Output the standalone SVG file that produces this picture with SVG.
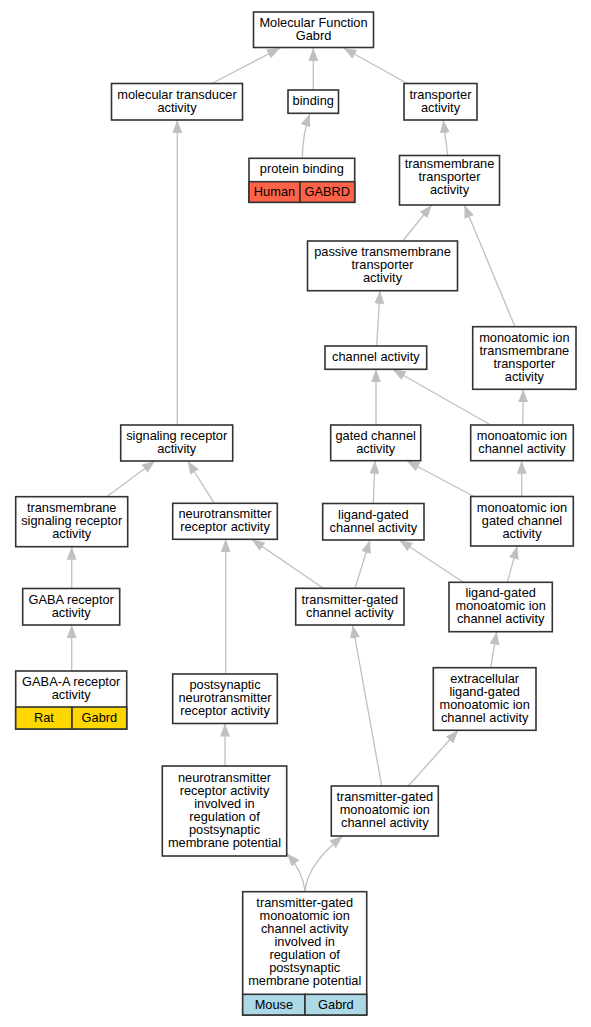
<svg xmlns="http://www.w3.org/2000/svg" width="591" height="1027" viewBox="0 0 591 1027">
<style>
.node rect{fill:#fff;stroke:#333;stroke-width:1.6}
.node text{font-family:"Liberation Sans",Arial,sans-serif;font-size:12.8px;text-anchor:middle;fill:#000}
.node line{stroke:#333;stroke-width:1.3}
.cellR{fill:#ff6347 !important}
.cellG{fill:#ffd700 !important}
.cellB{fill:#add8e6 !important}
#edges path{fill:none;stroke:#c0c0c0;stroke-width:1.3;marker-end:url(#ah)}
</style>
<defs>
<marker id="ah" markerUnits="userSpaceOnUse" markerWidth="14" markerHeight="10" refX="13" refY="5" orient="auto"><path d="M0,0 L13,5 L0,10 z" fill="#c0c0c0"/></marker>
</defs>
<rect width="591" height="1027" fill="#fff"/>
<g id="edges">
<path d="M211.7,83.5 L280,48"/>
<path d="M313.3,90 L313.3,48"/>
<path d="M407.3,83.5 L343.5,48"/>
<path d="M302.3,158.3 C302.5,142 305,127 310,113.5"/>
<path d="M447.7,155.5 L443.3,120"/>
<path d="M177.3,425 L177.3,120"/>
<path d="M402.7,241 L431.7,205"/>
<path d="M515,326.7 L464.3,205"/>
<path d="M376.7,346 L380,290.7"/>
<path d="M376,425 L376,369.3"/>
<path d="M490.7,425 L392.7,369.3"/>
<path d="M522.7,425 L523.3,389.3"/>
<path d="M106.7,496.7 L155,461"/>
<path d="M214.3,503.3 L187.7,461"/>
<path d="M373.3,503.5 L375,460.7"/>
<path d="M474,496.5 L406.7,460.7"/>
<path d="M521.7,496.5 L521.7,460.7"/>
<path d="M71.7,588.5 L71.7,546.7"/>
<path d="M323.3,588.3 L251.7,539.3"/>
<path d="M355,588.3 L370,540"/>
<path d="M463.3,582.3 L399.3,540"/>
<path d="M507.3,582.3 L517.3,546"/>
<path d="M71.7,671 L71.7,625"/>
<path d="M225.7,674 L225.7,539.3"/>
<path d="M490.7,667.7 L496.7,631.7"/>
<path d="M225,766 L225,723.5"/>
<path d="M381.7,786 L352.7,625"/>
<path d="M408.3,786 L458.3,730.3"/>
<path d="M305,891.7 C304,877 297,865 287,853.5"/>
<path d="M305,891.7 C307,870 322,853 342.7,836"/>
</g>
<g id="mf" class="node"><rect x="253.5" y="12" width="120" height="35.5"/><text><tspan x="313.5" y="26.6">Molecular Function</tspan><tspan x="313.5" y="39.6">Gabrd</tspan></text></g>
<g id="mta" class="node"><rect x="111.5" y="83.5" width="131" height="36.5"/><text><tspan x="177" y="98.6">molecular transducer</tspan><tspan x="177" y="111.6">activity</tspan></text></g>
<g id="binding" class="node"><rect x="288" y="90" width="50.5" height="23.3"/><text x="313.25" y="105">binding</text></g>
<g id="ta" class="node"><rect x="404" y="83.5" width="73" height="36.5"/><text><tspan x="440.5" y="98.6">transporter</tspan><tspan x="440.5" y="111.6">activity</tspan></text></g>
<g id="pb" class="node"><rect x="249" y="158.3" width="105.7" height="44"/><rect class="cellR" x="249" y="181.7" width="51" height="20.6"/><rect class="cellR" x="300" y="181.7" width="54.7" height="20.6"/><text x="301.85" y="173.3">protein binding</text><text x="274.5" y="195.5">Human</text><text x="327.3" y="195.5">GABRD</text></g>
<g id="tta" class="node"><rect x="399.5" y="155.5" width="100" height="49.5"/><text><tspan x="449.5" y="167.6">transmembrane</tspan><tspan x="449.5" y="180.6">transporter</tspan><tspan x="449.5" y="193.6">activity</tspan></text></g>
<g id="ptta" class="node"><rect x="307.5" y="241" width="150" height="49.7"/><text><tspan x="382.5" y="256.2">passive transmembrane</tspan><tspan x="382.5" y="269.2">transporter</tspan><tspan x="382.5" y="282.2">activity</tspan></text></g>
<g id="ca" class="node"><rect x="325" y="346" width="101.7" height="23.3"/><text x="375.85" y="361">channel activity</text></g>
<g id="mitt" class="node"><rect x="472.7" y="326.7" width="103.3" height="62.6"/><text><tspan x="524.35" y="341.8">monoatomic ion</tspan><tspan x="524.35" y="354.8">transmembrane</tspan><tspan x="524.35" y="367.8">transporter</tspan><tspan x="524.35" y="380.8">activity</tspan></text></g>
<g id="sra" class="node"><rect x="120.7" y="425" width="112" height="36"/><text><tspan x="176.7" y="439.8">signaling receptor</tspan><tspan x="176.7" y="452.8">activity</tspan></text></g>
<g id="gca" class="node"><rect x="330.7" y="425" width="90" height="35.7"/><text><tspan x="375.7" y="439.7">gated channel</tspan><tspan x="375.7" y="452.7">activity</tspan></text></g>
<g id="mica" class="node"><rect x="470.7" y="425" width="102.6" height="35.7"/><text><tspan x="522" y="439.7">monoatomic ion</tspan><tspan x="522" y="452.7">channel activity</tspan></text></g>
<g id="tsra" class="node"><rect x="15.7" y="496.7" width="112" height="50"/><text><tspan x="71.7" y="512">transmembrane</tspan><tspan x="71.7" y="525">signaling receptor</tspan><tspan x="71.7" y="538">activity</tspan></text></g>
<g id="nra" class="node"><rect x="172.7" y="503.3" width="104.6" height="36"/><text><tspan x="225" y="518.1">neurotransmitter</tspan><tspan x="225" y="531.1">receptor activity</tspan></text></g>
<g id="lgca" class="node"><rect x="322.7" y="503.5" width="101.3" height="36.5"/><text><tspan x="373.35" y="518.6">ligand-gated</tspan><tspan x="373.35" y="531.6">channel activity</tspan></text></g>
<g id="migca" class="node"><rect x="470.7" y="496.5" width="102.6" height="49.5"/><text><tspan x="522" y="511.6">monoatomic ion</tspan><tspan x="522" y="524.6">gated channel</tspan><tspan x="522" y="537.6">activity</tspan></text></g>
<g id="gabar" class="node"><rect x="22.7" y="588.5" width="97" height="36.5"/><text><tspan x="71.2" y="603.6">GABA receptor</tspan><tspan x="71.2" y="616.6">activity</tspan></text></g>
<g id="tgca" class="node"><rect x="295.7" y="588.3" width="108.3" height="36.7"/><text><tspan x="349.85" y="603.5">transmitter-gated</tspan><tspan x="349.85" y="616.5">channel activity</tspan></text></g>
<g id="lgmica" class="node"><rect x="449" y="582.3" width="103.3" height="49.4"/><text><tspan x="500.65" y="597.3">ligand-gated</tspan><tspan x="500.65" y="610.3">monoatomic ion</tspan><tspan x="500.65" y="623.3">channel activity</tspan></text></g>
<g id="gabaa" class="node"><rect x="15.7" y="671" width="111" height="58"/><rect class="cellG" x="15.7" y="707" width="56.3" height="22"/><rect class="cellG" x="72" y="707" width="54.7" height="22"/><text><tspan x="71.2" y="685.8">GABA-A receptor</tspan><tspan x="71.2" y="698.8">activity</tspan></text><text x="43.9" y="721.8">Rat</text><text x="99.4" y="721.8">Gabrd</text></g>
<g id="pnra" class="node"><rect x="172.7" y="674" width="104.6" height="49.5"/><text><tspan x="225" y="689.1">postsynaptic</tspan><tspan x="225" y="702.1">neurotransmitter</tspan><tspan x="225" y="715.1">receptor activity</tspan></text></g>
<g id="elgmica" class="node"><rect x="433.3" y="667.7" width="102.7" height="62.6"/><text><tspan x="484.65" y="682.8">extracellular</tspan><tspan x="484.65" y="695.8">ligand-gated</tspan><tspan x="484.65" y="708.8">monoatomic ion</tspan><tspan x="484.65" y="721.8">channel activity</tspan></text></g>
<g id="nrainv" class="node"><rect x="162.3" y="766" width="124.4" height="90"/><text><tspan x="224.5" y="781.8">neurotransmitter</tspan><tspan x="224.5" y="794.8">receptor activity</tspan><tspan x="224.5" y="807.8">involved in</tspan><tspan x="224.5" y="820.8">regulation of</tspan><tspan x="224.5" y="833.8">postsynaptic</tspan><tspan x="224.5" y="846.8">membrane potential</tspan></text></g>
<g id="tgmica" class="node"><rect x="331.3" y="786" width="107" height="50"/><text><tspan x="384.8" y="801.3">transmitter-gated</tspan><tspan x="384.8" y="814.3">monoatomic ion</tspan><tspan x="384.8" y="827.3">channel activity</tspan></text></g>
<g id="tgmicainv" class="node"><rect x="242.7" y="891.7" width="124" height="123.3"/><rect class="cellB" x="242.7" y="994.3" width="62.3" height="20.7"/><rect class="cellB" x="305" y="994.3" width="61.7" height="20.7"/><text><tspan x="304.7" y="907.3">transmitter-gated</tspan><tspan x="304.7" y="920.3">monoatomic ion</tspan><tspan x="304.7" y="933.3">channel activity</tspan><tspan x="304.7" y="946.3">involved in</tspan><tspan x="304.7" y="959.3">regulation of</tspan><tspan x="304.7" y="972.3">postsynaptic</tspan><tspan x="304.7" y="985.3">membrane potential</tspan></text><text x="273.9" y="1008.8">Mouse</text><text x="335.9" y="1008.8">Gabrd</text></g>
</svg>
